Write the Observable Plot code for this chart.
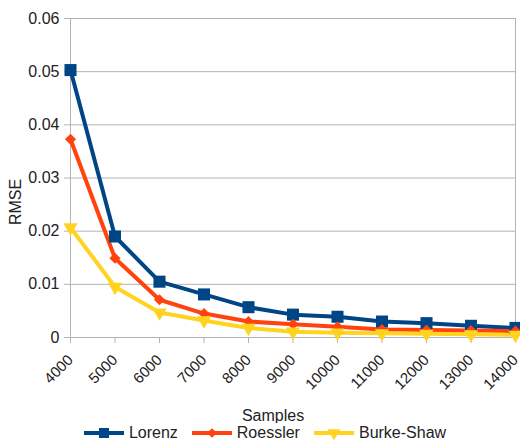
<!DOCTYPE html>
<html>
<head>
<meta charset="utf-8">
<script src="https://cdn.jsdelivr.net/npm/d3@7"></script>
<script src="https://cdn.jsdelivr.net/npm/@observablehq/plot@0.6"></script>
<style>
  body { margin: 0; background: #fff; font-family: "Liberation Sans", Arial, sans-serif; }
  #chart svg { display: block; }
  #legend { width: 520px; height: 20px; display: flex; justify-content: center; align-items: center; padding-left: 24px; box-sizing: border-box; font-size: 16px; color: #222; }
  .item { display: flex; align-items: center; margin-right: 14px; }
  .item svg { margin-right: 5px; }
</style>
</head>
<body>
<div id="chart"></div>
<div id="legend"></div>
<script>
const samples = [4000, 5000, 6000, 7000, 8000, 9000, 10000, 11000, 12000, 13000, 14000];
const lorenz = [0.0503, 0.0190, 0.0105, 0.0081, 0.0057, 0.0043, 0.0039, 0.0030, 0.0027, 0.0022, 0.0018];
const roessler = [0.0373, 0.0149, 0.0071, 0.0045, 0.0030, 0.0025, 0.0020, 0.0015, 0.0014, 0.0013, 0.0012];
const burkeShaw = [0.0207, 0.0095, 0.0047, 0.0032, 0.0018, 0.0011, 0.0009, 0.0008, 0.0007, 0.0006, 0.0005];
const yTicks = [0, 0.01, 0.02, 0.03, 0.04, 0.05, 0.06];
const seriesNames = ["Lorenz", "Roessler", "Burke-Shaw"];
const seriesColors = ["#004586", "#ff420e", "#ffd320"];
const seriesValues = [lorenz, roessler, burkeShaw];

const data = seriesNames.flatMap((name, i) =>
  samples.map((s, j) => ({series: name, samples: s, rmse: seriesValues[i][j]})));

const colorScale = {domain: seriesNames, range: seriesColors};
const grid = "#b3b3b3";

const plot = Plot.plot({
  width: 520,
  height: 423,
  marginLeft: 70,
  marginRight: 5,
  marginTop: 18,
  marginBottom: 86,
  style: {fontFamily: "'Liberation Sans', Arial, sans-serif", background: "white"},
  x: {domain: [4000, 14000]},
  y: {domain: [0, 0.06]},
  color: colorScale,
  marks: [
    Plot.ruleY(yTicks, {stroke: grid, strokeWidth: 1}),
    Plot.ruleX([samples[0], samples[samples.length - 1]], {stroke: grid, strokeWidth: 1}),
    Plot.axisY({ticks: yTicks, tickSize: 6, stroke: grid, strokeOpacity: 1, fill: "#222", fontSize: 16, tickPadding: 5, label: null, tickFormat: d => String(+d.toFixed(2))}),
    Plot.axisX({ticks: samples, tickSize: 6, stroke: grid, strokeOpacity: 1, fill: "#222", fontSize: 15, tickRotate: -45, tickPadding: 14, label: null, tickFormat: d => String(d)}),
    Plot.line(data, {x: "samples", y: "rmse", stroke: "series", strokeWidth: 4, strokeLinejoin: "round"}),
    Plot.dot(data.filter(d => d.series === "Lorenz"), {x: "samples", y: "rmse", fill: "series", symbol: "square", r: 6.8}),
    Plot.dot(data.filter(d => d.series === "Roessler"), {x: "samples", y: "rmse", fill: "series", symbol: "diamond2", r: 5}),
    Plot.dot(data.filter(d => d.series === "Burke-Shaw"), {x: "samples", y: "rmse", fill: "series", symbol: "triangle", rotate: 180, r: 5.3})
  ]
});
document.getElementById("chart").appendChild(plot);

const svg = d3.select(plot);
svg.append("text").attr("x", 273).attr("y", 421).attr("text-anchor", "middle")
  .attr("font-size", 16).attr("fill", "#222").text("Samples");
svg.append("text").attr("transform", "translate(21,202) rotate(-90)").attr("text-anchor", "middle")
  .attr("font-size", 16).attr("fill", "#222").text("RMSE");

// legend
const symbols = [d3.symbolSquare, d3.symbolDiamond2, d3.symbolTriangle];
const sizes = [100, 60, 70];
const legend = d3.select("#legend");
seriesNames.forEach((name, i) => {
  const item = legend.append("div").attr("class", "item");
  const s = item.append("svg").attr("width", 40).attr("height", 14);
  s.append("line").attr("x1", 0).attr("x2", 40).attr("y1", 7).attr("y2", 7)
    .attr("stroke", seriesColors[i]).attr("stroke-width", 4);
  s.append("path").attr("d", d3.symbol(symbols[i], sizes[i])())
    .attr("transform", `translate(20,7)${i === 2 ? " rotate(180)" : ""}`)
    .attr("fill", seriesColors[i]);
  item.append("span").text(name);
});
</script>
</body>
</html>
